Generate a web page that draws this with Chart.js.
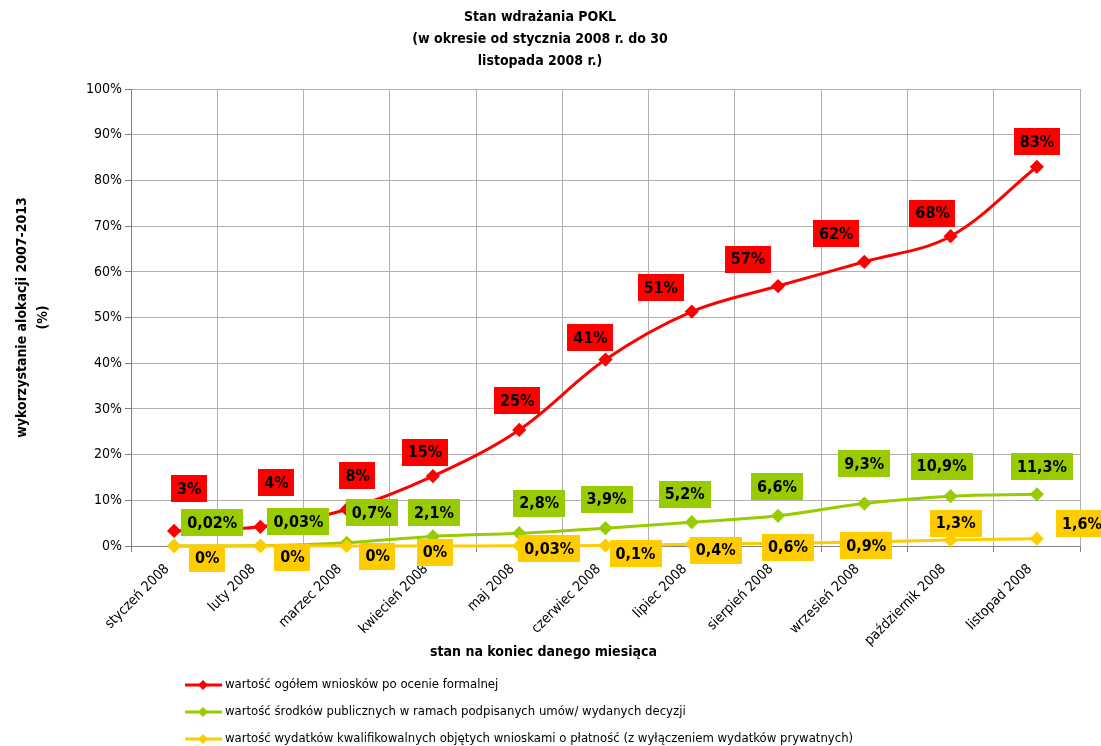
<!DOCTYPE html>
<html>
<head>
<meta charset="utf-8">
<script src="https://cdn.jsdelivr.net/npm/chart.js@4.4.1/dist/chart.umd.min.js"></script>
<style>
  html, body { margin: 0; padding: 0; background: #fff; }
</style>
</head>
<body>
<canvas id="myChart" width="1101" height="746"></canvas>
<script>
// categories and values
const months = ["styczeń 2008", "luty 2008", "marzec 2008", "kwiecień 2008", "maj 2008",
  "czerwiec 2008", "lipiec 2008", "sierpień 2008", "wrzesień 2008", "październik 2008", "listopad 2008"];
const ogolem = [3.3, 4.2, 8.0, 15.3, 25.4, 40.8, 51.3, 56.9, 62.2, 67.8, 83.0];
const srodki = [0.02, 0.03, 0.7, 2.1, 2.8, 3.9, 5.2, 6.6, 9.3, 10.9, 11.3];
const wydatki = [0, 0, 0, 0, 0.03, 0.1, 0.4, 0.6, 0.9, 1.3, 1.6];

const ogolemLabels = ["3%", "4%", "8%", "15%", "25%", "41%", "51%", "57%", "62%", "68%", "83%"];
const srodkiLabels = ["0,02%", "0,03%", "0,7%", "2,1%", "2,8%", "3,9%", "5,2%", "6,6%", "9,3%", "10,9%", "11,3%"];
const wydatkiLabels = ["0%", "0%", "0%", "0%", "0,03%", "0,1%", "0,4%", "0,6%", "0,9%", "1,3%", "1,6%"];

const seriesNames = [
  "wartość ogółem wniosków po ocenie formalnej",
  "wartość środków publicznych w ramach podpisanych umów/ wydanych decyzji",
  "wartość wydatków kwalifikowalnych objętych wnioskami o płatność (z wyłączeniem wydatków prywatnych)"
];

// label box nudges relative to each point (dx, dy)
const ogolemShift = [[15,-42],[16,-44],[11,-34],[-8,-24],[-2,-29],[-15,-22],[-31,-24],[-30,-27],[-28,-28],[-18,-23],[0,-25]];
const srodkiShift = [[38,-23],[38,-24],[25,-30],[1,-24],[20,-30],[1,-29],[-7,-28],[-1,-29],[0,-40],[-9,-30],[5,-28]];
const wydatkiShift = [[33,12],[32,11],[31,10],[2,6],[30,3],[30,8],[24,6],[10,4],[2,4],[5,-17],[45,-15]];

const FONT = "Tahoma, 'DejaVu Sans Condensed', 'DejaVu Sans', sans-serif";
Chart.defaults.font.family = FONT;
Chart.defaults.color = "#000";

const RED = "#ff0000", GREEN = "#99cc00", YELLOW = "#ffcc00";

const boxLabels = {
  id: "boxLabels",
  afterDatasetsDraw(chart) {
    const ctx = chart.ctx;
    ctx.save();
    ctx.font = "bold 16px " + FONT;
    ctx.textAlign = "center";
    ctx.textBaseline = "middle";
    chart.data.datasets.forEach((ds, i) => {
      const meta = chart.getDatasetMeta(i);
      meta.data.forEach((pt, j) => {
        const txt = ds.boxText[j];
        const x = pt.x + ds.boxShift[j][0];
        const y = pt.y + ds.boxShift[j][1];
        const w = ctx.measureText(txt).width + 12;
        const h = 27;
        ctx.fillStyle = ds.borderColor;
        ctx.fillRect(Math.round(x - w / 2), Math.round(y - h / 2), Math.round(w), h);
        ctx.fillStyle = "#000";
        ctx.fillText(txt, x, y + 1);
      });
    });
    ctx.restore();
  }
};

const bottomLegend = {
  id: "bottomLegend",
  afterDraw(chart) {
    const ctx = chart.ctx;
    const area = chart.chartArea;
    ctx.save();
    ctx.fillStyle = "#000";
    ctx.font = "bold 14px " + FONT;
    ctx.textAlign = "center";
    ctx.textBaseline = "middle";
    ctx.fillText("stan na koniec danego miesiąca", (area.left + area.right) / 2 - 62, 652);

    ctx.font = "13px " + FONT;
    ctx.textAlign = "left";
    chart.data.datasets.forEach((ds, i) => {
      const y = 685 + i * 27;
      ctx.strokeStyle = ds.borderColor;
      ctx.lineWidth = 3;
      ctx.beginPath();
      ctx.moveTo(185, y);
      ctx.lineTo(222, y);
      ctx.stroke();
      ctx.fillStyle = ds.borderColor;
      ctx.beginPath();
      ctx.moveTo(203, y - 5);
      ctx.lineTo(208, y);
      ctx.lineTo(203, y + 5);
      ctx.lineTo(198, y);
      ctx.closePath();
      ctx.fill();
      ctx.fillStyle = "#000";
      ctx.fillText(ds.label, 225, y);
    });
    ctx.restore();
  }
};

function series(label, data, color, text, shift, order) {
  return {
    label: label,
    data: data,
    borderColor: color,
    backgroundColor: color,
    borderWidth: 3,
    pointStyle: "rectRot",
    pointRadius: 5,
    pointHoverRadius: 5,
    tension: 0.35,
    clip: false,
    order: order,
    boxText: text,
    boxShift: shift
  };
}

new Chart(document.getElementById("myChart").getContext("2d"), {
  type: "line",
  data: {
    labels: months,
    datasets: [
      series(seriesNames[0], ogolem, RED, ogolemLabels, ogolemShift, 3),
      series(seriesNames[1], srodki, GREEN, srodkiLabels, srodkiShift, 2),
      series(seriesNames[2], wydatki, YELLOW, wydatkiLabels, wydatkiShift, 1)
    ]
  },
  options: {
    responsive: false,
    animation: false,
    devicePixelRatio: 1,
    layout: { padding: { left: 0, right: 21, top: 0, bottom: 0 } },
    plugins: {
      legend: { display: false },
      tooltip: { enabled: false },
      title: {
        display: true,
        text: ["Stan wdrażania POKL", "(w okresie od stycznia 2008 r. do 30", "listopada 2008 r.)"],
        font: { size: 14, weight: "bold", lineHeight: 1.55 },
        color: "#000",
        padding: { top: 7, bottom: 17 }
      }
    },
    scales: {
      x: {
        offset: true,
        grid: { offset: true, color: "#b0b0b0", tickLength: 6, tickColor: "#808080" },
        border: { color: "#808080" },
        ticks: { minRotation: 45, maxRotation: 45, autoSkip: false, font: { size: 14 }, padding: 9, labelOffset: -7 },
        afterFit(scale) { scale.height = 200; }
      },
      y: {
        min: 0,
        max: 100,
        ticks: { stepSize: 10, font: { size: 14 }, padding: 3, callback: v => v + "%" },
        grid: { color: "#b0b0b0", tickLength: 6, tickColor: "#808080" },
        border: { color: "#808080" },
        title: {
          display: true,
          text: ["wykorzystanie alokacji 2007-2013", "(%)"],
          font: { size: 14, weight: "bold", lineHeight: 1.5 },
          color: "#000",
          padding: { top: 12, bottom: 0 }
        },
        afterFit(scale) { scale.width = 131; }
      }
    }
  },
  plugins: [boxLabels, bottomLegend]
});
</script>
</body>
</html>
